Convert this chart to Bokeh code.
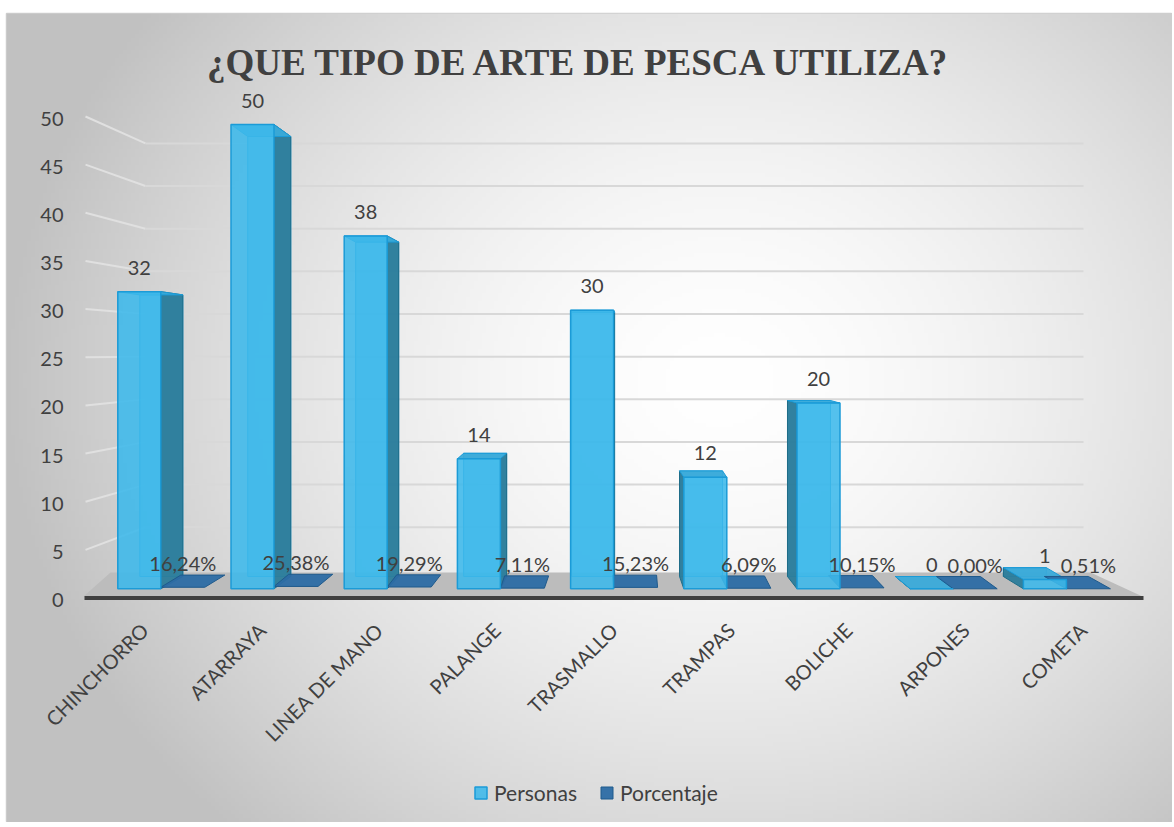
import numpy as np
from math import pi
from bokeh.plotting import figure
from bokeh.models import Range1d, LinearAxis, FixedTicker, Legend, LegendItem, ColumnDataSource
from bokeh.core.properties import value
from bokeh.embed import file_html
from bokeh.resources import INLINE

# ---------------- data ----------------
title_text = "¿QUE TIPO DE ARTE DE PESCA UTILIZA?"
categories = ["CHINCHORRO", "ATARRAYA", "LINEA DE MANO", "PALANGE", "TRASMALLO",
              "TRAMPAS", "BOLICHE", "ARPONES", "COMETA"]
personas = [32, 50, 38, 14, 30, 12, 20, 0, 1]
porcentaje = [16.24, 25.38, 19.29, 7.11, 15.23, 6.09, 10.15, 0.00, 0.51]
y_ticks = [0, 5, 10, 15, 20, 25, 30, 35, 40, 45, 50]
series_names = ["Personas", "Porcentaje"]

# ---------------- layout helpers (pixel geometry of the pseudo-3D view) ----------------
FL, FT, FR, FB = 6, 13, 1172, 822   # frame edges in page pixels
PX0, PXS = 138.8, 113.2      # x pixel of category 0, pixels per category
PY0, PYS = 588.3, 9.286      # front plane baseline and px per unit


def X(px):
    return (px - PX0) / PXS


def Y(py):
    return (PY0 - py) / PYS


def back(v):   # y of the back face of a bar, expressed in front units
    return Y(576.0 - 8.8 * np.asarray(v, dtype=float))


def wall(v):   # y of the back wall gridline
    return Y(569.4 - 8.53 * np.asarray(v, dtype=float))


def depth(xc):  # horizontal shift of the back face (perspective)
    return 0.0464 * ((613 - PX0) / PXS - xc)


BW = 43 / PXS
PW = 44 / PXS

p = figure(width=FR, height=FB, output_backend="svg", toolbar_location=None, tools="",
           x_axis_type=None, y_axis_type=None,
           x_range=Range1d(X(FL), X(FR)), y_range=Range1d(Y(FB), Y(FT)))
p.min_border = 0
p.min_border_top = FT
p.min_border_left = FL
p.border_fill_color = "white"
p.background_fill_color = "white"
p.outline_line_color = "#cfcfcf"
p.outline_line_width = 1.5

TK0, TKS = 599.5, 9.63
p.extra_y_ranges = {"tick": Range1d((TK0 - FB) / TKS, (TK0 - FT) / TKS)}
CX0, CXS = 144.0, 117.3
p.extra_x_ranges = {"front": Range1d((FL - CX0) / CXS, (FR - CX0) / CXS)}

# background gradient
gx = np.linspace(FL, FR, 292)
gy = np.linspace(FB, FT, 203)
GX, GY = np.meshgrid(gx, gy)
r = np.sqrt(((GX - 720) / 720) ** 2 + ((GY - 380) / 620) ** 2)
g = (255 - 62 * np.clip(r, 0, 1) ** 1.6).astype(np.uint8)
img = np.zeros(GX.shape, dtype=np.uint32)
view = img.view(dtype=np.uint8).reshape(GX.shape + (4,))
view[..., 0] = g
view[..., 1] = g
view[..., 2] = g
view[..., 3] = 255
p.image_rgba(image=[img], x=X(FL), y=Y(FB), dw=X(FR) - X(FL), dh=Y(FT) - Y(FB))

# gridlines on the back wall + perspective diagonals
tv = np.array(y_ticks[1:], dtype=float)
tick_py = TK0 - TKS * tv - 2
p.segment(x0=[X(85)] * len(tv), y0=list(Y(tick_py)), x1=[X(145)] * len(tv), y1=list(wall(tv)),
          line_color="#e0e0e0", line_width=2)
p.segment(x0=[X(145)] * len(tv), y0=list(wall(tv)), x1=[X(1083)] * len(tv), y1=list(wall(tv)),
          line_color="#d8d8d8", line_width=2)

# floor
p.patch(x=[X(83), X(1142), X(1090), X(110)], y=[Y(596), Y(596), Y(572), Y(572)],
        fill_color="#bcbcbc", line_color=None)
p.segment(x0=[X(84)], y0=[Y(597.5)], x1=[X(1143)], y1=[Y(597.5)], line_color="#3f3f3f", line_width=4)

# ---------------- bars ----------------
idx = np.arange(len(categories), dtype=float)
pv = np.array(personas, dtype=float)
xl = idx - BW / 2
xr = idx + BW / 2
dxp = depth(idx)

back_xs, back_ys, side_xs, side_ys, top_xs, top_ys = [], [], [], [], [], []
for a, b, d, v in zip(xl, xr, dxp, pv):
    b0, bv = float(back(0)), float(back(v))
    back_xs.append([a + d, b + d, b + d, a + d])
    back_ys.append([b0, b0, bv, bv])
    if d >= 0:
        side_xs.append([b, b, b + d, b + d])
    else:
        side_xs.append([a, a, a + d, a + d])
    side_ys.append([0, v, bv, b0])
    top_xs.append([a, b, b + d, a + d])
    top_ys.append([v, v, bv, bv])

p.patches(xs=back_xs, ys=back_ys, fill_color="#3cb8ea", fill_alpha=0.6,
          line_color="#1b9bd7", line_width=1)
p.patches(xs=side_xs, ys=side_ys, fill_color="#2c7c9a", fill_alpha=0.95,
          line_color="#1f6d88", line_width=1)
p.patches(xs=top_xs, ys=top_ys, fill_color="#3aaad9", fill_alpha=0.95,
          line_color="#1b9bd7", line_width=1)

# porcentaje (plotted as fractions -> nearly flat)
qv = np.array(porcentaje, dtype=float) / 100.0
qxl = xr
qxr = xr + PW
dxq = depth(idx + BW / 2 + PW / 2)
flat_xs, flat_ys = [], []
for a, b, d, v in zip(qxl, qxr, dxq, qv):
    bv = float(back(v))
    flat_xs.append([a, b, b + d, a + d])
    flat_ys.append([v, v, bv, bv])
flat_r = p.patches(xs=flat_xs, ys=flat_ys, fill_color="#2c6ca4", fill_alpha=0.95,
                   line_color="#1f5a8c", line_width=1)

front_src = ColumnDataSource(dict(left=xl, right=xr, top=pv, bottom=np.zeros_like(pv)))
front_r = p.quad(left="left", right="right", top="top", bottom="bottom", source=front_src,
                 fill_color="#3cb8ea", fill_alpha=0.88, line_color="#1b9bd7", line_width=1.5)

# ---------------- data labels ----------------
lab_off = 24 / PYS
p.text(x=list(idx), y=list(pv + lab_off), text=[str(v) for v in personas],
       text_font=value("Lato"), text_font_size="20px", text_color="#404040",
       text_align="center", text_baseline="middle")
p.text(x=list(qxl + PW / 2), y=list(qv + lab_off),
       text=[f"{v:.2f}".replace(".", ",") + "%" for v in porcentaje],
       text_font=value("Lato"), text_font_size="20px", text_color="#404040",
       text_align="center", text_baseline="middle")

# title
p.text(x=[X(579)], y=[Y(62)], text=[title_text], text_font=value("Liberation Serif"),
       text_font_style="bold", text_font_size="37px", text_color="#404040",
       text_align="center", text_baseline="middle")

# ---------------- axes ----------------
yaxis = LinearAxis(y_range_name="tick", ticker=FixedTicker(ticks=y_ticks), fixed_location=X(68))
yaxis.axis_line_color = None
yaxis.major_tick_line_color = None
yaxis.minor_tick_line_color = None
yaxis.major_tick_out = 0
yaxis.major_label_standoff = 5
yaxis.major_label_text_font = "Lato"
yaxis.major_label_text_font_size = "20px"
yaxis.major_label_text_color = "#404040"
p.add_layout(yaxis, "left")

xaxis = LinearAxis(x_range_name="front", ticker=FixedTicker(ticks=list(range(len(categories)))),
                   fixed_location=Y(600))
xaxis.major_label_overrides = {i: c for i, c in enumerate(categories)}
xaxis.major_label_orientation = pi / 4
xaxis.axis_line_color = None
xaxis.major_tick_line_color = None
xaxis.minor_tick_line_color = None
xaxis.major_tick_out = 0
xaxis.major_label_standoff = 26
xaxis.major_label_text_font = "Lato"
xaxis.major_label_text_font_size = "20px"
xaxis.major_label_text_color = "#404040"
p.add_layout(xaxis, "below")

# ---------------- legend ----------------
legend = Legend(items=[LegendItem(label=series_names[0], renderers=[front_r]),
                       LegendItem(label=series_names[1], renderers=[flat_r])],
                orientation="horizontal", location=(473 - FL, 17))
legend.background_fill_alpha = 0
legend.border_line_color = None
legend.padding = 0
legend.margin = 0
legend.spacing = 22
legend.label_standoff = 6
legend.glyph_width = 15
legend.glyph_height = 15
legend.label_height = 20
legend.label_text_font = "Lato"
legend.label_text_font_size = "21px"
legend.label_text_color = "#404040"
p.add_layout(legend)

open("out.html", "w").write(file_html(p, INLINE))
